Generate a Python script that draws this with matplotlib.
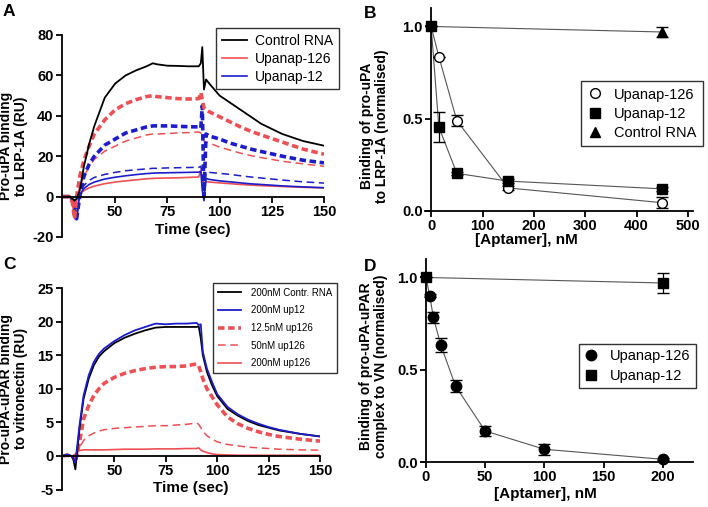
import numpy as np
import matplotlib.pyplot as plt

plt.rcParams['font.family'] = ['Liberation Sans', 'DejaVu Sans']
plt.rcParams['axes.unicode_minus'] = False

ROJO = '#ec5055'
AZUL = '#1c1cc8'

# ---- panel A: sensorgramas pro-uPA / LRP-1A ----
tA = [25, 28, 29.5, 30.5, 31.5, 33, 35, 37.5, 40, 45, 50, 55, 60, 65, 68, 70, 75, 80, 85,
      90, 91, 91.7, 92.5, 93.5, 95, 100, 105, 110, 115, 120, 130, 140, 150]
a_control = [0, 0, -1, -2, -1, 3, 15, 26, 35, 49, 56, 60, 62.5, 64.5, 66, 65.5, 64.8, 64.7, 64.5,
             64.5, 66, 74, 53, 58, 56, 50, 46.5, 43, 39.5, 36, 31, 27.5, 25.2]
a_126_alto = [0, 0, -3, -11, 0, 10, 18, 25, 31, 38, 43, 46, 48, 49.5, 50, 49.5, 49, 48.5, 48.3,
              48.5, 51.5, 48, 44, 43, 42, 39.5, 37, 34.5, 32.3, 30.5, 27, 23.5, 21]
a_12_alto = [0, 0, -1, -6, -11, 0, 10, 16, 20, 25.5, 28.5, 31.5, 33, 34.5, 35, 35, 35, 34.8, 34.6,
             34.5, 34, 45, 0, 31, 30, 28.5, 26.5, 25, 23.5, 22.3, 20, 18, 16.7]
a_126_medio = [0, 0, -2, -10, -1, 5, 10, 15, 18.5, 22.5, 25, 27.5, 29, 30.5, 31, 31, 31.2, 31.5, 31.7,
               32, 31.5, 29, 27.5, 27, 26.5, 24.5, 23, 21.5, 20.3, 19.3, 17.5, 16.2, 15]
a_12_medio = [0, 0, -1, -5, -11, 2, 5.5, 8, 9.5, 11, 12, 12.8, 13.3, 13.7, 14, 14, 14.2, 14.3, 14.4,
              14.5, 15, 10, 3, 12, 12, 11.5, 11, 10.3, 9.7, 9.2, 8.2, 7.3, 6.7]
a_12_bajo = [0, 0, -1, -5, -11, 1, 4, 6, 7.2, 8.7, 9.6, 10.3, 10.9, 11.4, 11.6, 11.7, 11.8, 11.9, 12,
             12.1, 12.5, 3, -2, 9, 8.5, 7.8, 7.3, 6.8, 6.3, 6, 5.3, 4.8, 4.4]
a_126_bajo = [0, 0, -3, -11, -2, 1, 3, 4.3, 5.2, 6.4, 7.2, 7.8, 8.3, 8.8, 9, 9.1, 9.2, 9.3, 9.5,
              9.7, 13, 9, 6, 7.5, 7.2, 6.8, 6.4, 6, 5.7, 5.4, 5, 4.6, 4.3]

# ---- panel B: LRP-1A normalizado ----
b_x = [0, 15, 50, 150, 450]
b_126 = [1.0, 0.836, 0.49, 0.125, 0.045]
b_126_err = [0, 0.0, 0.03, 0.01, 0.03]
b_12 = [1.0, 0.455, 0.204, 0.162, 0.12]
b_12_err = [0, 0.083, 0.01, 0.01, 0.01]
b_ctrl_x = [0, 450]
b_ctrl = [1.0, 0.97]
b_ctrl_err = [0, 0.025]

# ---- panel C: sensorgramas pro-uPA-uPAR / vitronectina ----
tC = [25, 27, 29, 30, 31, 33, 35, 37.5, 40, 42.5, 45, 50, 55, 60, 65, 70, 75, 80, 85, 90, 91, 92,
      93, 95, 97.5, 100, 105, 110, 115, 120, 125, 130, 140, 150]
c_control = [0, 0.2, 0, -0.5, -2, 4, 8.5, 11.5, 13.5, 14.8, 15.6, 16.8, 17.6, 18.2, 18.7, 19.1, 19.2,
             19.2, 19.2, 19.2, 19.3, 17.5, 15, 12.5, 10.5, 8.9, 7.0, 6.0, 5.2, 4.6, 4.2, 3.8, 3.3, 2.9]
c_up12 = [0, 0.2, 0, -0.3, -1, 4.5, 9, 12, 14, 15.2, 16, 17.1, 18, 18.7, 19.2, 19.7, 19.6, 19.7,
          19.7, 19.8, 19.5, 19.6, 15.5, 13, 11, 9.2, 7.3, 6.2, 5.4, 4.8, 4.3, 3.9, 3.3, 2.9]
c_126_12 = [0, 0.1, 0, 0, -1, 2, 5.5, 7.5, 9, 10, 10.8, 11.7, 12.3, 12.7, 13, 13.2, 13.3, 13.3,
            13.4, 13.7, 13.4, 12.5, 11.5, 10, 8.8, 7.6, 5.8, 4.8, 4.1, 3.6, 3.2, 2.9, 2.5, 2.2]
c_126_50 = [0, 0.1, 0, 0, 0, 1.2, 2.3, 3, 3.4, 3.7, 3.9, 4.1, 4.2, 4.3, 4.4, 4.5, 4.5, 4.6, 4.7,
            4.9, 4.7, 4.2, 3.7, 3.0, 2.5, 2.1, 1.7, 1.5, 1.3, 1.2, 1.1, 1.0, 0.9, 0.85]
c_126_200 = [0, 0.1, 0, 0, 0.3, 0.8, 0.9, 0.9, 0.9, 0.9, 0.9, 0.95, 1.0, 1.0, 1.0, 1.05, 1.05, 1.05,
             1.1, 1.1, 1.2, 0.9, 0.7, 0.5, 0.3, 0.2, 0.15, 0.1, 0.1, 0.1, 0.1, 0.1, 0.1, 0.1]

# ---- panel D: VN normalizado ----
d_x = [0, 3.125, 6.25, 12.5, 25, 50, 100, 200]
d_126 = [1.0, 0.902, 0.784, 0.634, 0.411, 0.168, 0.069, 0.0145]
d_126_err = [0, 0.01, 0.03, 0.04, 0.033, 0.028, 0.03, 0.005]
d_12_x = [0, 200]
d_12 = [1.0, 0.97]
d_12_err = [0, 0.055]

fig = plt.figure(figsize=(7.08, 5.07), dpi=100)


def ejes(izq, arriba, der, abajo):
    # posicion en pixeles de la imagen
    return fig.add_axes([izq / 708, 1 - abajo / 507, (der - izq) / 708, (abajo - arriba) / 507])


def estilo(ax):
    ax.spines['top'].set_visible(False)
    ax.spines['right'].set_visible(False)
    ax.spines['left'].set_linewidth(1.3)
    ax.spines['bottom'].set_linewidth(1.3)
    ax.tick_params(width=1.3, length=4, labelsize=10.5, pad=2)
    for lab in ax.get_xticklabels() + ax.get_yticklabels():
        lab.set_fontweight('bold')


def leyenda(ax, handles, labels, x, y, **kw):
    leg = ax.legend(handles, labels, loc='upper left', bbox_to_anchor=(x / 708, 1 - y / 507),
                    bbox_transform=fig.transFigure, fancybox=False, edgecolor='#333333',
                    borderaxespad=0, framealpha=1, **kw)
    leg.get_frame().set_linewidth(1.0)
    return leg


gruesa = dict(lw=2.6, dashes=(1.8, 1.0))
fina = dict(lw=1.1, dashes=(5, 3))

# --- A ---
axA = ejes(62, 35, 324, 237)
axA.plot(tA, a_12_medio, color=AZUL, **fina)
axA.plot(tA, a_126_medio, color=ROJO, **fina)
l126, = axA.plot(tA, a_126_bajo, color=ROJO, lw=1.2)
l12, = axA.plot(tA, a_12_bajo, color=AZUL, lw=1.2)
axA.plot(tA, a_12_alto, color=AZUL, **gruesa)
axA.plot(tA, a_126_alto, color=ROJO, **gruesa)
lctl, = axA.plot(tA, a_control, color='black', lw=1.3)
axA.set_xlim(24.5, 150)
axA.set_ylim(-20, 80)
axA.spines['bottom'].set_position(('data', 0))
axA.set_xticks([50, 75, 100, 125, 150])
axA.set_yticks([-20, 0, 20, 40, 60, 80])
estilo(axA)
axA.set_xlabel('Time (sec)', fontsize=11, fontweight='bold')
axA.xaxis.set_label_coords(0.5, 0.07)
axA.set_ylabel('Pro-uPA binding\nto LRP-1A (RU)', fontsize=10, fontweight='bold', linespacing=1.05)
axA.yaxis.set_label_coords(-0.13, 0.45)
leyenda(axA, [lctl, l126, l12], ['Control RNA', 'Upanap-126', 'Upanap-12'], 216, 28,
        fontsize=10, borderpad=0.4, labelspacing=0.3, handlelength=1.8, handletextpad=0.6)

# --- B ---
axB = ejes(425, 8, 693, 211)
axB.plot(b_x, b_126, color='#555555', lw=0.8, zorder=1)
axB.plot(b_x, b_12, color='#555555', lw=0.8, zorder=1)
axB.plot(b_ctrl_x, b_ctrl, color='#555555', lw=0.8, zorder=1)
eb1 = axB.errorbar(b_x, b_126, yerr=b_126_err, fmt='o', ms=7, mfc='white', mec='black', mew=1.0,
                   ecolor='black', elinewidth=0.9, capsize=4, zorder=3, clip_on=False)
eb2 = axB.errorbar(b_x, b_12, yerr=b_12_err, fmt='s', ms=7, color='black',
                   ecolor='black', elinewidth=0.9, capsize=4, zorder=4, clip_on=False)
eb3 = axB.errorbar(b_ctrl_x[1:], b_ctrl[1:], yerr=b_ctrl_err[1:], fmt='^', ms=7.5, color='black',
                   ecolor='black', elinewidth=0.9, capsize=4, zorder=4, clip_on=False)
axB.set_xlim(-12, 510)
axB.set_ylim(0, 1.1)
axB.spines['left'].set_position(('data', 0))
axB.set_xticks([0, 100, 200, 300, 400, 500])
axB.set_yticks([0, 0.5, 1.0])
axB.set_yticklabels(['0.0', '0.5', '1.0'])
estilo(axB)
axB.set_xlabel('[Aptamer], nM', fontsize=11, fontweight='bold')
axB.xaxis.set_label_coords(0.38, -0.11)
axB.set_ylabel('Binding of pro-uPA\nto LRP-1A (normalised)', fontsize=10, fontweight='bold',
               linespacing=1.05)
axB.yaxis.set_label_coords(-0.135, 0.42)
leyenda(axB, [eb1[0], eb2[0], eb3[0]], ['Upanap-126', 'Upanap-12', 'Control RNA'], 581, 81,
        fontsize=10.5, borderpad=0.45, labelspacing=0.35, handlelength=1.0, handletextpad=0.8)

# --- C ---
axC = ejes(62, 288, 320, 489.5)
h5, = axC.plot(tC, c_126_200, color=ROJO, lw=1.2)
h4, = axC.plot(tC, c_126_50, color=ROJO, **fina)
h3, = axC.plot(tC, c_126_12, color=ROJO, **gruesa)
h1, = axC.plot(tC, c_control, color='black', lw=1.3)
h2, = axC.plot(tC, c_up12, color=AZUL, lw=1.3)
axC.set_xlim(24.5, 150)
axC.set_ylim(-5, 25)
axC.spines['bottom'].set_position(('data', 0))
axC.set_xticks([50, 75, 100, 125, 150])
axC.set_yticks([-5, 0, 5, 10, 15, 20, 25])
estilo(axC)
axC.set_xlabel('Time (sec)', fontsize=11, fontweight='bold')
axC.xaxis.set_label_coords(0.5, 0.04)
axC.set_ylabel('Pro-uPA-uPAR binding\nto vitronectin (RU)', fontsize=10, fontweight='bold',
               linespacing=1.05)
axC.yaxis.set_label_coords(-0.132, 0.5)
leyenda(axC, [h1, h2, h3, h4, h5],
        ['200nM Contr. RNA', '200nM up12', '12.5nM up126', '50nM up126', '200nM up126'], 213, 283,
        fontsize=7, borderpad=0.5, labelspacing=0.78, handlelength=2.4, handletextpad=1.0)

# --- D ---
axD = ejes(421.7, 259, 693.3, 462)
axD.plot(d_x, d_126, color='#555555', lw=0.8, zorder=1)
axD.plot(d_12_x, d_12, color='#555555', lw=0.8, zorder=1)
ed1 = axD.errorbar(d_x[1:], d_126[1:], yerr=d_126_err[1:], fmt='o', ms=7.5, color='black',
                   ecolor='black', elinewidth=0.9, capsize=4, zorder=3, clip_on=False)
ed2 = axD.errorbar(d_12_x, d_12, yerr=d_12_err, fmt='s', ms=7, color='black',
                   ecolor='black', elinewidth=0.9, capsize=4, zorder=4, clip_on=False)
axD.set_xlim(-3.6, 225.6)
axD.set_ylim(0, 1.1)
axD.spines['left'].set_position(('data', 0))
axD.set_xticks([0, 50, 100, 150, 200])
axD.set_yticks([0, 0.5, 1.0])
axD.set_yticklabels(['0.0', '0.5', '1.0'])
estilo(axD)
axD.set_xlabel('[Aptamer], nM', fontsize=11, fontweight='bold')
axD.xaxis.set_label_coords(0.454, -0.125)
axD.set_ylabel('Binding of pro-uPA-uPAR\ncomplex to VN (normalised)', fontsize=10,
               fontweight='bold', linespacing=1.05)
axD.yaxis.set_label_coords(-0.124, 0.47)
leyenda(axD, [ed1[0], ed2[0]], ['Upanap-126', 'Upanap-12'], 579, 344,
        fontsize=10.5, borderpad=0.35, labelspacing=0.4, handlelength=1.0, handletextpad=0.8)

# letras de los paneles
for letra, x, y in [('A', 3, 4), ('B', 364, 6), ('C', 3, 257), ('D', 364, 259)]:
    fig.text(x / 708, 1 - y / 507, letra, fontsize=12.5, fontweight='bold', va='top')

fig.savefig('out.png', dpi=100)
